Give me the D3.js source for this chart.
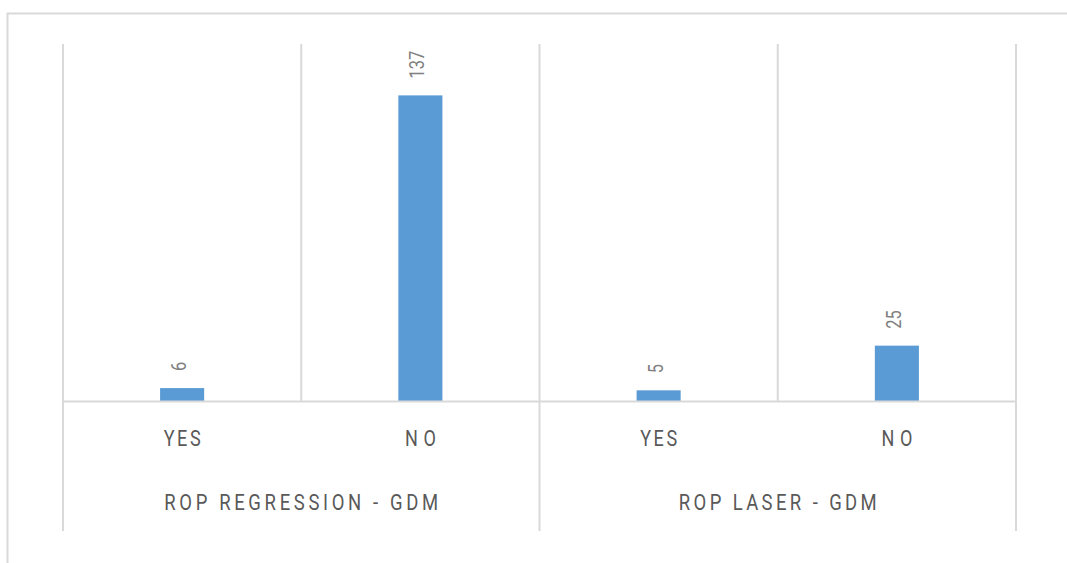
<!DOCTYPE html>
<html>
<head>
<meta charset="utf-8">
<script src="https://cdn.jsdelivr.net/npm/d3@7"></script>
<style>
  html, body { margin: 0; padding: 0; background: #ffffff; }
  svg { display: block; }
  text { font-family: Roboto, "DejaVu Sans Condensed", sans-serif; font-weight: 400; }
</style>
</head>
<body>
<svg id="chart" width="1067" height="563"></svg>
<script>
// Two-level category axis: each group holds a YES and a NO bar
const groups = ["ROP REGRESSION - GDM", "ROP LASER - GDM"];
const answers = ["YES", "NO"];
const counts = [6, 137, 5, 25];   // in group order: YES, NO, YES, NO
const valueMax = 160;             // top of the value axis

(function () {
  const rows = [];
  groups.forEach((g, gi) => answers.forEach((a, ai) => {
    rows.push({ key: g + "|" + a, group: g, answer: a, value: counts[gi * answers.length + ai] });
  }));

  const svg = d3.select("#chart");
  const grid = "#d9d9d9";
  const narrow = 0.84;   // horizontal squeeze to get a condensed face

  // Outer chart frame (runs past the right and bottom edges)
  svg.append("rect")
    .attr("x", 7.5).attr("y", 13.5)
    .attr("width", 1080).attr("height", 580)
    .attr("fill", "none").attr("stroke", grid).attr("stroke-width", 2);

  const plotLeft = 63, plotRight = 1016, plotTop = 44, base = 401.5, axisEnd = 531;

  const x = d3.scaleBand().domain(rows.map(d => d.key)).range([plotLeft, plotRight]).paddingInner(0).paddingOuter(0);
  const xg = d3.scaleBand().domain(groups).range([plotLeft, plotRight]).padding(0);
  const y = d3.scaleLinear().domain([0, valueMax]).range([base, plotTop]);

  const barW = x.bandwidth() * 0.185;

  // Vertical gridlines at every category boundary
  const bounds = rows.map(d => x(d.key)).concat([plotRight]);
  svg.append("g").selectAll("line").data(bounds).join("line")
    .attr("x1", d => d).attr("x2", d => d)
    .attr("y1", y(valueMax)).attr("y2", base)
    .attr("stroke", grid).attr("stroke-width", 2);

  // Group dividers extend down through the axis labels
  const groupBounds = groups.map(g => xg(g)).concat([plotRight]);
  svg.append("g").selectAll("line").data(groupBounds).join("line")
    .attr("x1", d => d).attr("x2", d => d)
    .attr("y1", base).attr("y2", axisEnd)
    .attr("stroke", grid).attr("stroke-width", 2);

  // Bars
  svg.append("g").selectAll("rect").data(rows).join("rect")
    .attr("x", d => x(d.key) + (x.bandwidth() - barW) / 2)
    .attr("y", d => y(d.value))
    .attr("width", barW)
    .attr("height", d => base - y(d.value))
    .attr("fill", "#5b9bd5");

  // Baseline
  svg.append("line")
    .attr("x1", plotLeft).attr("x2", plotRight).attr("y1", base).attr("y2", base)
    .attr("stroke", grid).attr("stroke-width", 2);

  // Rotated value labels above each bar
  svg.append("g").selectAll("text").data(rows).join("text")
    .attr("transform", d => `translate(${x(d.key) + x.bandwidth() / 2 + 4},${y(d.value) - 17}) rotate(-90) scale(0.82,1)`)
    .attr("text-anchor", "start")
    .attr("font-size", 20)
    .attr("fill", "#808080")
    .text(d => d.value);

  // Answer labels (first axis level)
  svg.append("g").selectAll("text").data(rows).join("text")
    .attr("transform", d => `translate(${x(d.key) + x.bandwidth() / 2},446) scale(${narrow},1)`)
    .attr("text-anchor", "middle")
    .attr("font-size", 21.5)
    .attr("fill", "#595959")
    .attr("textLength", d => (d.answer === "NO" ? 31 : 37) / narrow)
    .attr("lengthAdjust", "spacing")
    .text(d => d.answer);

  // Group labels (second axis level)
  const groupLen = { "ROP REGRESSION - GDM": 274, "ROP LASER - GDM": 198 };
  svg.append("g").selectAll("text").data(groups).join("text")
    .attr("transform", g => `translate(${xg(g) + xg.bandwidth() / 2},510) scale(${narrow},1)`)
    .attr("text-anchor", "middle")
    .attr("font-size", 22)
    .attr("fill", "#595959")
    .attr("textLength", g => groupLen[g] / narrow)
    .attr("lengthAdjust", "spacing")
    .text(g => g);
})();
</script>
</body>
</html>
